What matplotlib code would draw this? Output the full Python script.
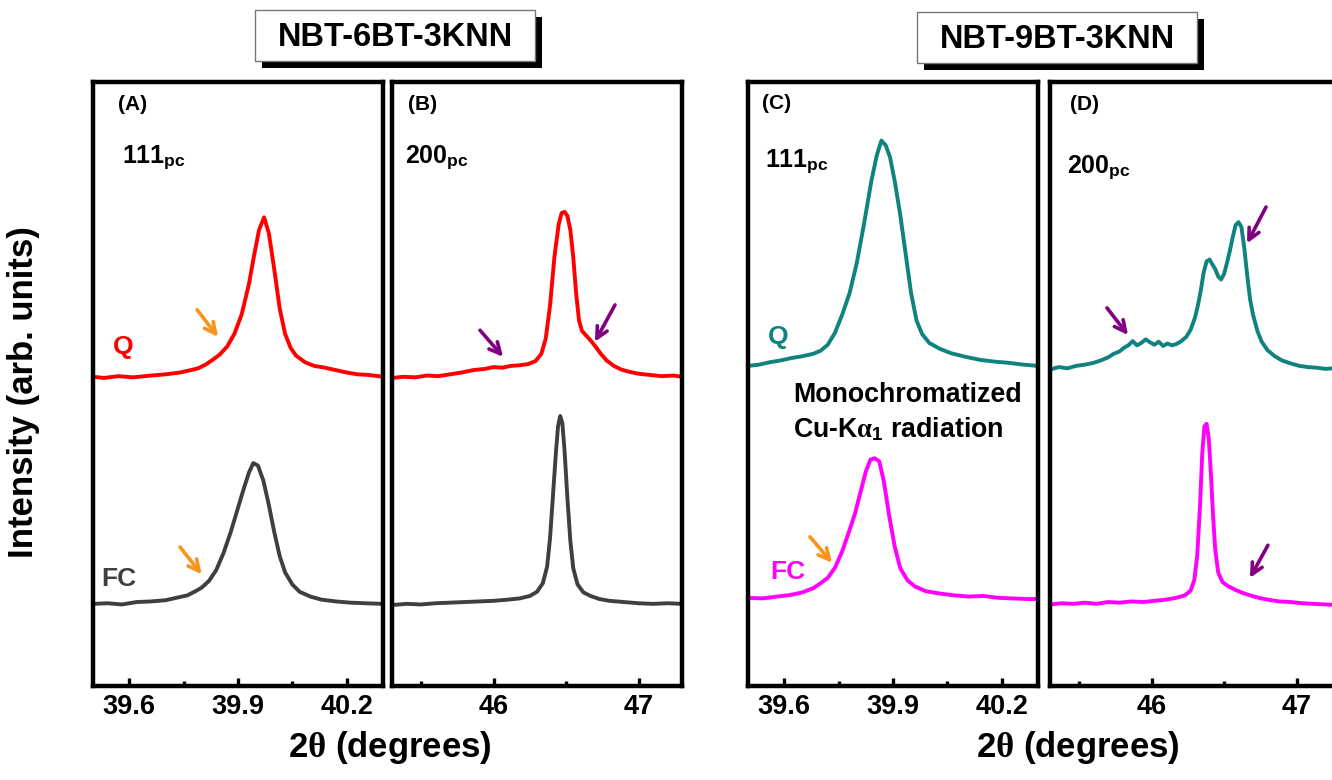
import numpy as np
import matplotlib.pyplot as plt
from matplotlib.patches import Rectangle

plt.rcParams['font.family'] = ['Liberation Sans', 'DejaVu Sans']
plt.rcParams['font.weight'] = 'bold'
plt.rcParams['mathtext.fontset'] = 'custom'
plt.rcParams['mathtext.rm'] = 'Liberation Sans:bold'
plt.rcParams['mathtext.bf'] = 'Liberation Sans:bold'
plt.rcParams['mathtext.it'] = 'Liberation Serif'

# ---- data (2theta, intensity in arb. units) ----
# (A) NBT-6BT-3KNN, 111pc
aq_x = [39.50, 39.53, 39.57, 39.61, 39.66, 39.70, 39.74, 39.77, 39.79, 39.81, 39.83, 39.85, 39.87,
        39.89, 39.91, 39.93, 39.945, 39.958, 39.972, 39.985, 40.00, 40.015, 40.03, 40.045, 40.06,
        40.085, 40.11, 40.14, 40.17, 40.20, 40.23, 40.26, 40.30]
aq_y = [51.2, 51.0, 51.3, 51.1, 51.4, 51.6, 51.9, 52.3, 52.6, 53.2, 54.0, 54.9, 56.2,
        58.3, 61.5, 66.5, 71.5, 75.5, 77.6, 75.0, 69.0, 62.5, 58.3, 56.0, 54.7,
        53.6, 53.0, 52.7, 52.3, 51.9, 51.6, 51.5, 51.2]
af_x = [39.50, 39.54, 39.58, 39.62, 39.66, 39.70, 39.73, 39.76, 39.78, 39.80, 39.82, 39.84, 39.86,
        39.88, 39.90, 39.915, 39.93, 39.942, 39.955, 39.97, 39.985, 40.00, 40.015, 40.03, 40.05,
        40.07, 40.10, 40.13, 40.17, 40.21, 40.25, 40.30]
af_y = [13.6, 13.7, 13.5, 13.9, 14.0, 14.2, 14.6, 15.0, 15.6, 16.3, 17.4, 19.2, 22.0,
        25.5, 29.5, 32.5, 35.3, 36.9, 36.5, 34.0, 30.0, 25.5, 21.5, 18.8, 16.8,
        15.6, 14.8, 14.3, 14.0, 13.8, 13.7, 13.6]

# (B) NBT-6BT-3KNN, 200pc
bq_x = [45.30, 45.38, 45.46, 45.54, 45.62, 45.70, 45.78, 45.86, 45.94, 46.00, 46.06, 46.12, 46.18,
        46.24, 46.29, 46.33, 46.36, 46.39, 46.42, 46.45, 46.47, 46.49, 46.51, 46.53, 46.55,
        46.57, 46.59, 46.61, 46.64, 46.67, 46.70, 46.74, 46.78, 46.83, 46.88, 46.94, 47.00,
        47.08, 47.16, 47.24, 47.30]
bq_y = [51.0, 51.2, 51.1, 51.4, 51.3, 51.6, 51.9, 52.3, 52.5, 52.8, 52.7, 53.0, 53.1,
        53.3, 53.8, 55.0, 57.5, 63.0, 71.0, 76.5, 78.3, 78.5, 77.8, 75.5, 71.0,
        65.0, 60.5, 58.8, 58.0, 57.2, 56.3, 55.0, 53.9, 53.0, 52.4, 52.0, 51.7,
        51.5, 51.3, 51.4, 51.2]
bf_x = [45.30, 45.40, 45.50, 45.60, 45.70, 45.80, 45.90, 46.00, 46.10, 46.18, 46.25, 46.30, 46.34,
        46.37, 46.39, 46.41, 46.43, 46.445, 46.46, 46.475, 46.49, 46.51, 46.53, 46.55, 46.58,
        46.62, 46.67, 46.73, 46.80, 46.90, 47.00, 47.10, 47.20, 47.30]
bf_y = [13.4, 13.6, 13.5, 13.7, 13.8, 13.9, 14.0, 14.1, 14.3, 14.5, 14.9, 15.6, 17.0,
        19.8, 24.5, 31.5, 38.5, 43.0, 44.7, 43.5, 39.0, 31.0, 24.0, 19.5, 16.8,
        15.5, 14.9, 14.4, 14.1, 13.9, 13.7, 13.6, 13.7, 13.6]

# (C) NBT-9BT-3KNN, 111pc
cq_x = [39.50, 39.53, 39.56, 39.59, 39.62, 39.65, 39.68, 39.70, 39.72, 39.74, 39.76, 39.78, 39.80,
        39.82, 39.84, 39.855, 39.868, 39.88, 39.892, 39.905, 39.92, 39.935, 39.95, 39.965, 39.98,
        40.00, 40.03, 40.06, 40.10, 40.14, 40.18, 40.22, 40.26, 40.30]
cq_y = [53.0, 53.2, 53.6, 53.9, 54.3, 54.6, 55.0, 55.5, 56.5, 58.5, 61.5, 65.0, 70.0,
        76.5, 83.5, 87.8, 90.3, 89.5, 87.5, 83.5, 78.0, 71.5, 65.0, 60.5, 58.3,
        56.8, 55.8, 55.1, 54.5, 54.0, 53.7, 53.5, 53.2, 53.0]
cf_x = [39.50, 39.54, 39.58, 39.62, 39.65, 39.68, 39.70, 39.72, 39.74, 39.76, 39.78, 39.795, 39.81,
        39.825, 39.838, 39.85, 39.862, 39.875, 39.89, 39.905, 39.92, 39.94, 39.96, 39.99, 40.03,
        40.07, 40.11, 40.15, 40.19, 40.23, 40.27, 40.30]
cf_y = [14.6, 14.5, 14.8, 15.1, 15.5, 16.2, 17.0, 17.9, 19.6, 22.3, 25.8, 28.5, 32.0,
        35.5, 37.5, 37.7, 37.2, 33.8, 28.0, 23.0, 19.5, 17.5, 16.5, 15.7, 15.3,
        15.0, 14.8, 14.9, 14.6, 14.5, 14.4, 14.4]

# (D) NBT-9BT-3KNN, 200pc
dq_x = [45.30, 45.36, 45.42, 45.48, 45.54, 45.60, 45.65, 45.70, 45.74, 45.78, 45.81, 45.84, 45.87,
        45.90, 45.93, 45.96, 45.99, 46.02, 46.05, 46.08, 46.11, 46.14, 46.17, 46.20, 46.24,
        46.27, 46.30, 46.32, 46.34, 46.36, 46.38, 46.40, 46.42, 46.44, 46.46, 46.48, 46.50,
        46.52, 46.54, 46.56, 46.58, 46.60, 46.62, 46.64, 46.66, 46.68, 46.70, 46.73, 46.76,
        46.80, 46.85, 46.90, 46.96, 47.02, 47.08, 47.14, 47.20, 47.26, 47.30]
dq_y = [52.4, 52.8, 52.6, 53.0, 53.2, 53.5, 53.9, 54.4, 55.0, 55.4, 56.0, 56.4, 57.1,
        56.4, 56.8, 57.4, 56.9, 56.5, 57.0, 56.3, 56.7, 56.4, 56.6, 57.0, 57.8,
        59.0, 61.0, 63.0, 65.5, 68.5, 70.3, 70.6, 69.8, 69.0, 67.8, 67.3, 68.2,
        70.0, 72.0, 74.3, 76.3, 76.8, 76.0, 72.5, 68.0, 64.0, 61.5, 58.8, 57.0,
        55.6, 54.6, 53.9, 53.4, 53.0, 52.8, 52.7, 52.5, 52.6, 52.5]
df_x = [45.30, 45.38, 45.46, 45.54, 45.62, 45.70, 45.78, 45.86, 45.94, 46.02, 46.10, 46.17, 46.23,
        46.27, 46.295, 46.315, 46.335, 46.35, 46.365, 46.38, 46.395, 46.41, 46.425, 46.44, 46.46,
        46.49, 46.53, 46.58, 46.63, 46.68, 46.74, 46.80, 46.88, 46.96, 47.04, 47.12, 47.20, 47.30]
df_y = [13.5, 13.7, 13.6, 13.8, 13.6, 13.9, 13.8, 14.0, 13.9, 14.1, 14.3, 14.6, 15.0,
        15.8, 17.5, 21.5, 30.0, 38.5, 43.0, 43.4, 41.0, 35.0, 28.0, 22.5, 18.8,
        17.2, 16.5, 15.9, 15.4, 15.0, 14.6, 14.3, 14.0, 13.9, 13.7, 13.6, 13.5, 13.4]

# arrows: (tail x, tail y, head x, head y)
a_arrows = [(39.787, 62.3, 39.845, 57.8), (39.74, 23.0, 39.80, 18.5)]
b_arrows = [(45.907, 58.9, 46.066, 54.5), (46.838, 63.1, 46.70, 57.0)]
c_arrows = [(39.671, 24.7, 39.732, 20.4)]
d_arrows = [(46.79, 79.3, 46.659, 73.3), (45.693, 62.6, 45.838, 58.1), (46.803, 23.3, 46.679, 17.9)]

low_ticks = [39.6, 39.9, 40.2]
low_minor = [39.75, 40.05]
low_labels = ['39.6', '39.9', '40.2']
high_ticks = [46, 47]
high_minor = [45.5, 46.5]
high_labels = ['46', '47']

red = '#ff0000'
gray = '#3f3f3f'
teal = '#10837e'
magenta = '#ff00ff'
orange = '#f7941d'
purple = '#800080'

fig = plt.figure(figsize=(13.32, 7.8), dpi=100)

W, H = 1332.0, 780.0
def axpos(left_px):
    return [left_px / W, (H - 686) / H, 290 / W, 604 / H]

panels = [
    dict(left=93, xlim=(39.5, 40.3), ticks=low_ticks, minor=low_minor, labels=low_labels,
         q=(aq_x, aq_y, red), fc=(af_x, af_y, gray), arrows=a_arrows, acol=[orange, orange],
         tag='(A)', tagpos=(0.086, 0.962), hkl=r'111$_{\mathrm{pc}}$', hklpos=(0.10, 0.866),
         qpos=(0.069, 0.550), fcpos=(0.03, 0.166)),
    dict(left=392, xlim=(45.3, 47.3), ticks=high_ticks, minor=high_minor, labels=high_labels,
         q=(bq_x, bq_y, red), fc=(bf_x, bf_y, gray), arrows=b_arrows, acol=[purple, purple],
         tag='(B)', tagpos=(0.055, 0.962), hkl=r'200$_{\mathrm{pc}}$', hklpos=(0.045, 0.866),
         qpos=None, fcpos=None),
    dict(left=748, xlim=(39.5, 40.3), ticks=low_ticks, minor=low_minor, labels=low_labels,
         q=(cq_x, cq_y, teal), fc=(cf_x, cf_y, magenta), arrows=c_arrows, acol=[orange],
         tag='(C)', tagpos=(0.048, 0.965), hkl=r'111$_{\mathrm{pc}}$', hklpos=(0.059, 0.858),
         qpos=(0.069, 0.566), fcpos=(0.076, 0.177)),
    dict(left=1050, xlim=(45.3, 47.3), ticks=high_ticks, minor=high_minor, labels=high_labels,
         q=(dq_x, dq_y, teal), fc=(df_x, df_y, magenta), arrows=d_arrows, acol=[purple] * 3,
         tag='(D)', tagpos=(0.069, 0.962), hkl=r'200$_{\mathrm{pc}}$', hklpos=(0.059, 0.849),
         qpos=None, fcpos=None),
]

axes = []
for p in panels:
    ax = fig.add_axes(axpos(p['left']))
    qx, qy, qc = p['q']
    fx, fy, fcol = p['fc']
    ax.plot(qx, qy, color=qc, lw=2.8, solid_joinstyle='round')
    ax.plot(fx, fy, color=fcol, lw=2.8, solid_joinstyle='round')
    ax.set_xlim(*p['xlim'])
    ax.set_ylim(0, 100)
    ax.set_yticks([])
    ax.set_xticks(p['ticks'])
    ax.set_xticklabels(p['labels'])
    ax.set_xticks(p['minor'], minor=True)
    ax.tick_params(axis='x', which='major', direction='in', length=6, width=2.4,
                   labelsize=19.5, pad=6)
    ax.tick_params(axis='x', which='minor', direction='in', length=3.5, width=2.4)
    for lab in ax.get_xticklabels():
        lab.set_fontweight('bold')
    for s in ax.spines.values():
        s.set_linewidth(3.2)
    for (tx, ty, hx, hy), col in zip(p['arrows'], p['acol']):
        ax.annotate('', xy=(hx, hy), xytext=(tx, ty),
                    arrowprops=dict(arrowstyle='->', color=col, lw=2.6,
                                    mutation_scale=20, shrinkA=0, shrinkB=0))
    ax.text(*p['tagpos'], p['tag'], transform=ax.transAxes, fontsize=15,
            fontweight='bold', ha='left', va='center')
    ax.text(*p['hklpos'], p['hkl'], transform=ax.transAxes, fontsize=18,
            fontweight='bold', ha='left', va='baseline')
    if p['qpos']:
        ax.text(*p['qpos'], 'Q', transform=ax.transAxes, fontsize=19,
                fontweight='bold', color=qc, ha='left', va='baseline')
    if p['fcpos']:
        ax.text(*p['fcpos'], 'FC', transform=ax.transAxes, fontsize=19,
                fontweight='bold', color=fcol, ha='left', va='baseline')
    axes.append(ax)

axes[2].text(0.155, 0.47, 'Monochromatized', transform=axes[2].transAxes,
             fontsize=19.3, fontweight='bold', ha='left', va='baseline')
axes[2].text(0.155, 0.412, r'Cu-K$\alpha_{1}$ radiation', transform=axes[2].transAxes,
             fontsize=19.3, fontweight='bold', ha='left', va='baseline')

# titles in shadowed boxes
for x0, y0, title, ty in [(255, 10, 'NBT-6BT-3KNN', 37.5), (917, 12, 'NBT-9BT-3KNN', 40)]:
    shadow = Rectangle(((x0 + 7) / W, 1 - (y0 + 58) / H), 280 / W, 51 / H,
                       transform=fig.transFigure, facecolor='black', edgecolor='none', zorder=1)
    box = Rectangle((x0 / W, 1 - (y0 + 51) / H), 280 / W, 51 / H,
                    transform=fig.transFigure, facecolor='white', edgecolor='#777777',
                    lw=1.0, zorder=2)
    fig.patches.extend([shadow, box])
    fig.text((x0 + 140) / W, 1 - ty / H, title, fontsize=23.5, fontweight='bold',
             ha='center', va='center', zorder=3)

fig.text(24 / W, 1 - 392 / H, 'Intensity (arb. units)', rotation=90, fontsize=25,
         fontweight='bold', ha='center', va='center')
fig.text(390 / W, 1 - 747 / H, r'2$\theta$ (degrees)', fontsize=25, fontweight='bold',
         ha='center', va='center')
fig.text(1078 / W, 1 - 747 / H, r'2$\theta$ (degrees)', fontsize=25, fontweight='bold',
         ha='center', va='center')

fig.savefig('out.png', dpi=100)
